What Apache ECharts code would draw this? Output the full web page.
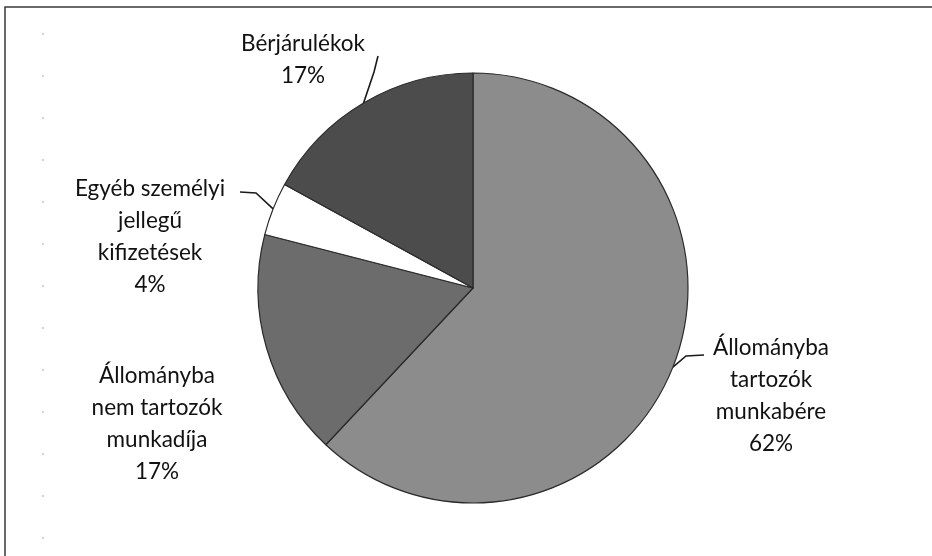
<!DOCTYPE html>
<html>
<head>
<meta charset="utf-8">
<script src="https://cdn.jsdelivr.net/npm/echarts@6/dist/echarts.min.js"></script>
<style>
html,body{margin:0;padding:0;background:#fff;}
#chart{width:932px;height:556px;}
</style>
</head>
<body>
<div id="chart"></div>
<script>
// Categories (clockwise from 12 o'clock)
const categories = [
  "Állományba tartozók munkabére",
  "Állományba nem tartozók munkadíja",
  "Egyéb személyi jellegű kifizetések",
  "Bérjárulékok"
];
// Displayed label text (with line breaks as in the reference)
const labelTexts = [
  "Állományba\ntartozók\nmunkabére",
  "Állományba\nnem tartozók\nmunkadíja",
  "Egyéb személyi\njellegű\nkifizetések",
  "Bérjárulékok"
];
// Percent values
const values = [62, 17, 4, 17];

// Styling (kept separate from data)
const sliceColors = ["#8c8c8c", "#6c6c6c", "#ffffff", "#4c4c4c"];
const labelCenters = [[771, 396], [157, 424], [150, 237], [303, 60]];
const leaderEnds = [[[686, 356], [704, 355]], null, [[256, 193], [240, 192]], [[374, 72], [378, 56]]];

const chart = echarts.init(document.getElementById('chart'));
chart.setOption({
  backgroundColor: '#ffffff',
  animation: false,
  graphic: [
    { type: 'rect', shape: { x: 5, y: 7, width: 1000, height: 700 },
      style: { fill: 'none', stroke: '#3a3a3a', lineWidth: 1.5 }, z: 0 },
    { type: 'line', shape: { x1: 43, y1: 33, x2: 43, y2: 556 },
      style: { stroke: '#aaa', lineWidth: 1, lineDash: [2, 40] }, z: 0 }
  ],
  series: [{
    type: 'pie',
    center: [473, 288],
    radius: 215,
    startAngle: 90,
    clockwise: true,
    label: {
      show: true,
      position: 'outside',
      fontFamily: 'Lato, "Open Sans", sans-serif',
      fontSize: 22.5,
      lineHeight: 32,
      color: '#111111',
      align: 'center',
      formatter: function (p) { return labelTexts[p.dataIndex] + '\n' + p.value + '%'; }
    },
    labelLine: {
      show: true,
      lineStyle: { color: '#1a1a1a', width: 1.6 }
    },
    labelLayout: function (params) {
      const i = params.dataIndex;
      const c = labelCenters[i];
      const out = { x: c[0], y: c[1], align: 'center', verticalAlign: 'middle' };
      if (leaderEnds[i] && params.labelLinePoints) {
        out.labelLinePoints = [params.labelLinePoints[0], leaderEnds[i][0], leaderEnds[i][1]];
      }
      return out;
    },
    itemStyle: { borderColor: '#2a2a2a', borderWidth: 1.2 },
    data: categories.map(function (name, i) {
      const d = { name: name, value: values[i], itemStyle: { color: sliceColors[i] } };
      if (!leaderEnds[i]) d.labelLine = { show: false };
      return d;
    })
  }]
});
</script>
</body>
</html>
